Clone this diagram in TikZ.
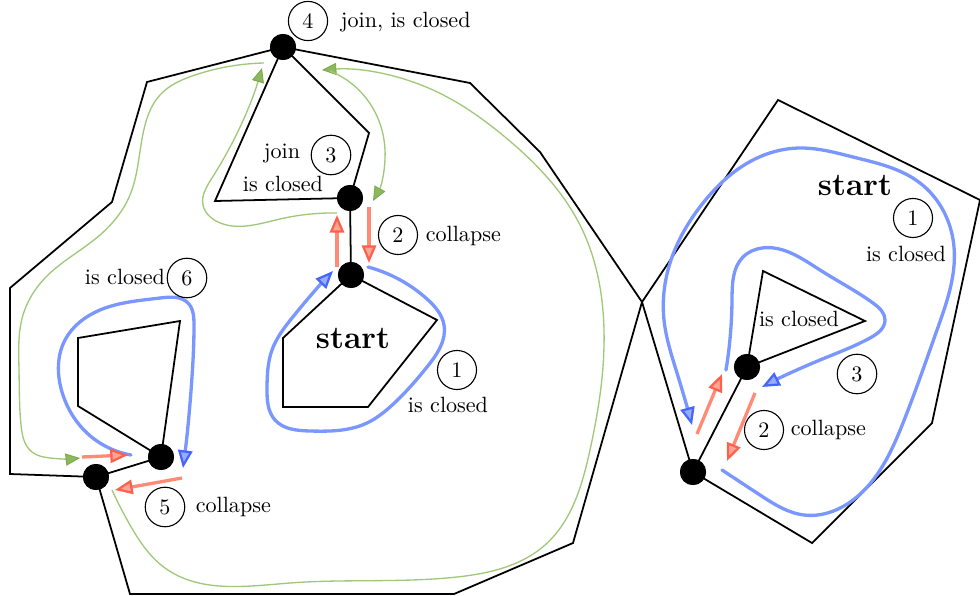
\documentclass[tikz,border=0pt]{standalone}
\usetikzlibrary{arrows.meta,hobby}
\definecolor{bluec}{RGB}{122,150,255}
\definecolor{bluetipd}{RGB}{70,100,255}
\definecolor{bluetipf}{RGB}{150,172,255}
\definecolor{redc}{RGB}{255,138,118}
\definecolor{redtipd}{RGB}{255,95,75}
\definecolor{redtipf}{RGB}{255,165,148}
\definecolor{greenc}{RGB}{160,200,120}
\definecolor{greentipd}{RGB}{125,168,75}
\definecolor{greentipf}{RGB}{140,185,95}
\tikzset{
  edge/.style={line width=0.8pt, line join=miter},
  dot/.style={circle, fill=black, inner sep=0pt, minimum size=11.8pt},
  num/.style={circle, draw, line width=0.5pt},
  bluepath/.style={use Hobby shortcut, draw=bluec, line width=1.5pt, line cap=round,
    -{Triangle[length=8pt,width=6.5pt,line width=1pt,color=bluetipd,fill=bluetipf]}},
  redpath/.style={draw=redc, line width=1.5pt,
    -{Triangle[length=8pt,width=6.5pt,line width=1pt,color=redtipd,fill=redtipf]}},
  greenpath/.style={use Hobby shortcut, draw=greenc, line width=0.6pt,
    -{Triangle[length=6.5pt,width=5.5pt,line width=0.4pt,color=greentipd,fill=greentipf]}},
  bigstart/.style={font=\Large\bfseries},
}
\begin{document}
\begin{tikzpicture}[x=0.4525pt,y=-0.4525pt]
\useasboundingbox (0,0) rectangle (980,596);

% vertices
\coordinate (a1) at (470,83);
\coordinate (a2) at (540,152);
\coordinate (J) at (642,302);
\coordinate (a3) at (573,543);
\coordinate (a4) at (454,594);
\coordinate (a5) at (130,594);
\coordinate (a6) at (10,474);
\coordinate (a7) at (10,288);
\coordinate (a8) at (112,202);
\coordinate (a9) at (147,82);
\coordinate (t1) at (215,201);
\coordinate (t2) at (369,133);
\coordinate (p1) at (283,338);
\coordinate (p2) at (283,407);
\coordinate (p3) at (368,407);
\coordinate (p4) at (437,320);
\coordinate (q1) at (78,406);
\coordinate (q2) at (78,338);
\coordinate (q3) at (180,321);
\coordinate (r1) at (778,100);
\coordinate (r2) at (980,200);
\coordinate (r3) at (932,423);
\coordinate (r4) at (812,543);
\coordinate (s1) at (763,271);
\coordinate (s2) at (865,321);

% dots
\node[dot] (n4) at (283,47) {};
\node[dot] (n3) at (350,198) {};
\node[dot] (ns) at (351,275) {};
\node[dot] (n5) at (96,477) {};
\node[dot] (n6) at (161,457) {};
\node[dot] (nr1) at (693,472) {};
\node[dot] (nr2) at (747,367) {};

% black edges
\draw[edge] (n4.center) -- (a1) -- (a2) -- (J) -- (a3) -- (a4) -- (a5) -- (n5.center) -- (a6) -- (a7) -- (a8) -- (a9) -- cycle;
\draw[edge] (n4.center) -- (t1) -- (n3.center) -- (t2) -- cycle;
\draw[edge] (n3.center) -- (ns.center);
\draw[edge] (ns.center) -- (p1) -- (p2) -- (p3) -- (p4) -- cycle;
\draw[edge] (n6.center) -- (q1) -- (q2) -- (q3) -- cycle;
\draw[edge] (n5.center) -- (n6.center);
\draw[edge] (J) -- (r1) -- (r2) -- (r3) -- (r4) -- (nr1.center) -- cycle;
\draw[edge] (nr2.center) -- (s1) -- (s2) -- cycle;
\draw[edge] (nr1.center) -- (nr2.center);

% redraw dots on top
\foreach \n in {n4,n3,ns,n5,n6,nr1,nr2} \fill (\n) circle (5.9pt);

% green paths
\draw[greenpath] (337,213) .. (280,219) .. (218,222) .. (203,205) .. (212,178) .. (262,68);
\draw[greenpath] (264,63) .. (195,75) .. (160,95) .. (145,125) .. (130,195) .. (100,235) .. (45,278) .. (23,315) .. (19,370) .. (21,425) .. (32,452) .. (50,458) .. (80,458);
\draw[greenpath] (112,490) .. (130,525) .. (165,568) .. (290,583) .. (457,577) .. (545,545) .. (590,450) .. (604,330) .. (580,225) .. (505,137) .. (433,90) .. (322,70);
\draw[greenpath] (330,71) .. (375,112) .. (385,150) .. (373,201);

% blue paths
\draw[bluepath] (368,267) .. (427,299) .. (444,325) .. (427,367) .. (390,407) .. (367,423) .. (310,431) .. (275,420) .. (267,388) .. (272,350) .. (292,318) .. (333,271);
\draw[bluepath] (131,455) .. (87,433) .. (62,392) .. (65,340) .. (100,310) .. (160,298) .. (188,303) .. (194,325) .. (192,377) .. (183,468);
\draw[bluepath] (722,470) .. (760,495) .. (804,515) .. (853,500) .. (903,423) .. (937,330) .. (954,247) .. (920,183) .. (853,157) .. (800,148) .. (753,160) .. (703,203) .. (670,263) .. (664,320) .. (677,373) .. (692,425);
\draw[bluepath] (726,370) .. (732,300) .. (743,257) .. (762,248) .. (820,270) .. (873,303) .. (885,320) .. (870,338) .. (820,360) .. (762,387);

% red arrows
\draw[redpath] (337,267) -- (337,215);
\draw[redpath] (369,207) -- (369,263);
\draw[redpath] (82,457) -- (128,455);
\draw[redpath] (182,478) -- (115,490);
\draw[redpath] (697,434) -- (722,374);
\draw[redpath] (755,393) -- (727,461);

% labels
\node[num] (c4) at (308,21) {4};
\node[anchor=west] (l4) at (333,22) {join, is closed};
\node (l3a) at (282,154) {join};
\node[num] (c3) at (331,155) {3};
\node (l3b) at (283,184) {is closed};
\node[num] (c2) at (398,235) {2};
\node[anchor=west] (l2) at (418,236) {collapse};
\node[bigstart] (st1) at (353,338) {start};
\node[num] (c1) at (457,370) {1};
\node (l1) at (448,405) {is closed};
\node (l6) at (125,277) {is closed};
\node[num] (c6) at (187,278) {6};
\node[num] (c5) at (165,507) {5};
\node[anchor=west] (l5) at (188,507) {collapse};
\node[bigstart] (st2) at (855,185) {start};
\node[num] (c1r) at (913,218) {1};
\node (l1r) at (906,254) {is closed};
\node (ltri) at (799,319) {is closed};
\node[num] (c3r) at (857,374) {3};
\node[num] (c2r) at (764,430) {2};
\node[anchor=west] (l2r) at (783,430) {collapse};
\end{tikzpicture}
\end{document}
